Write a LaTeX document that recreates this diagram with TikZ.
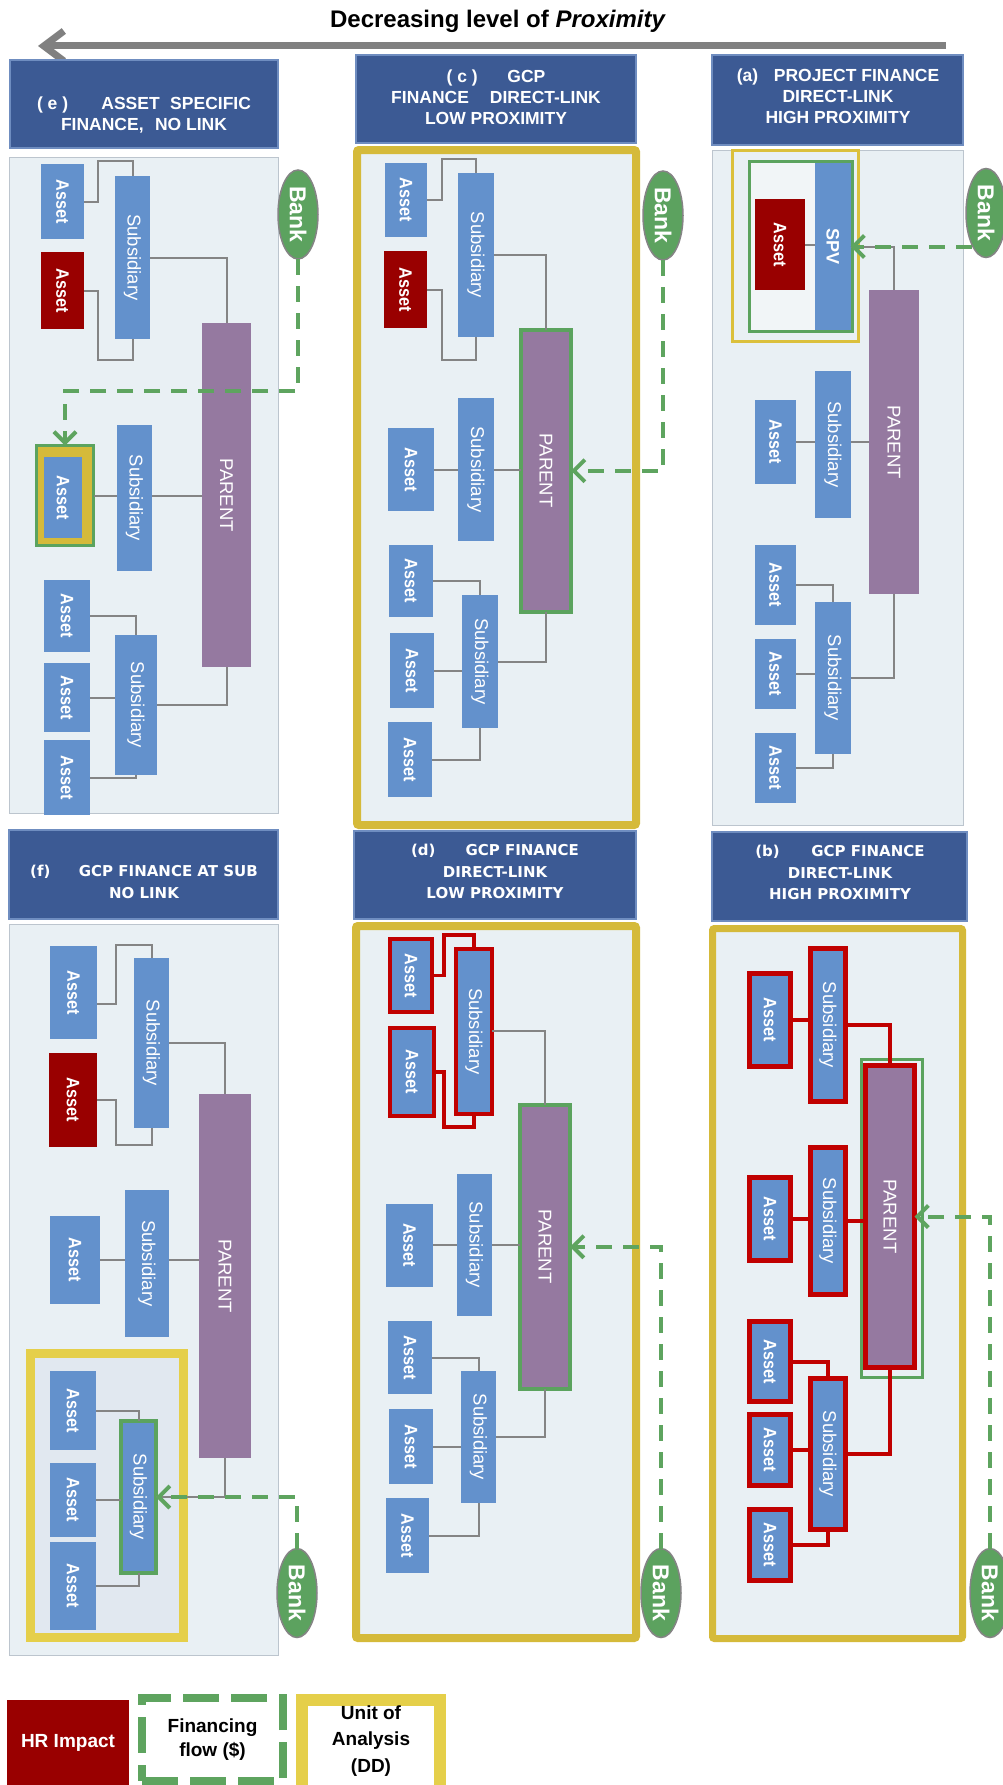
\documentclass[tikz,border=0pt]{standalone}
\usepackage{fontspec}
\setmainfont{Liberation Sans}
\newfontfamily\widefont{DejaVu Sans}
\usepackage{graphicx}
\usetikzlibrary{arrows.meta,shapes.geometric}
\definecolor{hdrblue}{HTML}{3C5A94}
\definecolor{hdrline}{HTML}{6F8DC0}
\definecolor{panelbg}{HTML}{E9F0F4}
\definecolor{panelline}{HTML}{BCC5CE}
\definecolor{assetblue}{HTML}{6391CC}
\definecolor{hrred}{HTML}{990000}
\definecolor{hrline}{HTML}{C00000}
\definecolor{parentpurple}{HTML}{9579A0}
\definecolor{bankgreen}{HTML}{5CA25F}
\definecolor{flowgreen}{HTML}{5EA45F}
\definecolor{greenline}{HTML}{5BA35E}
\definecolor{frameyellow}{HTML}{D5BA3A}
\definecolor{spvyellow}{HTML}{DBC03C}
\definecolor{lightyellow}{HTML}{E5CF4A}
\definecolor{conngray}{HTML}{848484}
\definecolor{arrowgray}{HTML}{808080}
\definecolor{unitbg}{HTML}{E1E8F0}
\definecolor{spvbg}{HTML}{F1F5F7}
\newcommand\rt[2][1]{\rotatebox{-90}{\scalebox{#1}[1]{#2}}}
\newcommand\tAsset{\rt[0.9]{\fontsize{18}{18}\selectfont\bfseries Asset}}
\newcommand\tSub{\rt{\fontsize{18.5}{18}\selectfont Subsidiary}}
\newcommand\tParent{\rt{\fontsize{18.5}{18}\selectfont PARENT}}
\newcommand\tBank{\rt{\fontsize{23}{23}\selectfont\bfseries Bank}}
\newcommand\tSpv{\rt{\fontsize{18}{18}\selectfont\bfseries SPV}}
\newcommand\bx[7]{\node[#2,minimum width={(#5)-(#3)},minimum height={(#6)-(#4)}] (#1) at ({((#3)+(#5))/2},{((#4)+(#6))/2}) {#7};}
\tikzset{
 shp/.style={inner sep=0pt, outer sep=0pt, text=white},
 ast/.style={shp, fill=assetblue},
 hrast/.style={shp, fill=hrred},
 subbox/.style={shp, fill=assetblue},
 parentbox/.style={shp, fill=parentpurple},
 gparent/.style={shp, fill=parentpurple, draw=greenline, line width=4pt},
 gsub/.style={shp, fill=assetblue, draw=greenline, line width=4pt},
 redast/.style={shp, fill=assetblue, draw=hrline, line width=4pt},
 redast5/.style={shp, fill=assetblue, draw=hrline, line width=5pt},
 redpar/.style={shp, fill=parentpurple, draw=hrline, line width=5pt},
 unitmark/.style={shp, fill=frameyellow, draw=greenline, line width=3pt},
 bankov/.style={ellipse, fill=bankgreen, draw=conngray, line width=1.5pt, inner sep=0pt, outer sep=0pt, text=white, minimum width=40pt, minimum height=89pt},
 hdr/.style={shp, fill=hdrblue, draw=hdrline, line width=1.2pt},
 hdrtxt/.style={text=white, align=center, inner sep=0pt, anchor=north, font=\fontsize{17.5}{21}\selectfont\bfseries},
 hdrtxtw/.style={text=white, align=center, inner sep=0pt, anchor=north, font=\widefont\fontsize{15}{21.5}\selectfont\bfseries},
 pnl/.style={shp, fill=panelbg, draw=panelline, line width=1pt},
 yframe/.style={shp, fill=panelbg, draw=frameyellow, line width=8pt, rounded corners=2pt},
 conn/.style={draw=conngray, line width=2pt},
 rconn/.style={draw=hrline, line width=3.5pt},
 rconnb/.style={draw=hrline, line width=4pt},
 flow/.style={draw=flowgreen, line width=4pt, dash pattern=on 16pt off 11pt, -{Straight Barb[length=11pt,width=22pt]}},
}
\begin{document}
\begin{tikzpicture}[x=1pt,y=-1pt]
\useasboundingbox (0,0) rectangle (1002,1785);
\fill[white] (0,0) rectangle (1002,1785);
% title and arrow
\node[font=\fontsize{24}{28}\selectfont\bfseries, anchor=base] (title) at (498,27.6) {Decreasing level of \textit{Proximity}};
\coordinate (arrS) at (946,46);
\coordinate (arrE) at (38,46);
\draw[arrowgray, line width=7pt, -{Straight Barb[length=20pt,width=30pt]}] (arrS) -- (arrE);
% headers
\bx{e_h}{hdr}{10}{60}{278}{148}{}
\bx{c_h}{hdr}{356}{55}{636}{143}{}
\bx{a_h}{hdr}{712}{55}{963}{145}{}
\bx{f_h}{hdr}{9}{830}{278}{919}{}
\bx{d_h}{hdr}{354}{831}{636}{919}{}
\bx{b_h}{hdr}{712}{832}{967}{921}{}
\node[hdrtxt] (e_ht) at (144,96.5) {( e )\hspace{1.9em}ASSET\hspace{0.6em}SPECIFIC\\FINANCE,\hspace{0.65em}NO LINK};
\node[hdrtxt] (c_ht) at (496,69.5) {( c )\hspace{1.7em}GCP\\FINANCE\hspace{1.2em}DIRECT-LINK\\LOW PROXIMITY};
\node[hdrtxt] (a_ht) at (838,68.5) {(a)\hspace{0.9em}PROJECT FINANCE\\DIRECT-LINK\\HIGH PROXIMITY};
\node[hdrtxtw] (f_ht) at (144,865.3) {(f)\hspace{1.9em}GCP FINANCE AT SUB\\NO LINK};
\node[hdrtxtw] (d_ht) at (495,844.3) {(d)\hspace{2em}GCP FINANCE\\DIRECT-LINK\\LOW PROXIMITY};
\node[hdrtxtw] (b_ht) at (840,845.3) {(b)\hspace{2.1em}GCP FINANCE\\DIRECT-LINK\\HIGH PROXIMITY};
% panels
\bx{e_bg}{pnl}{9}{157}{278}{813}{}
\bx{a_bg}{pnl}{712}{150}{963}{825}{}
\bx{f_bg}{pnl}{9}{924}{278}{1655}{}
\bx{c_bg}{yframe}{357}{150}{636}{825}{}
\bx{d_bg}{yframe}{356}{926}{636}{1638}{}
\node[shp, fill=panelbg, draw=frameyellow, line width=7pt, rounded corners=2pt, minimum width=250pt, minimum height=710pt] (b_bg) at (837.5,1283.5) {};
% ---------- panel (e)
\bx{e_a1}{ast}{41}{164}{84}{239}{\tAsset}
\bx{e_a2}{hrast}{41}{252}{84}{329}{\tAsset}
\bx{e_s1}{subbox}{115}{176}{150}{339}{\tSub}
\bx{e_p}{parentbox}{202}{323}{251}{667}{\tParent}
\bx{e_u}{unitmark}{36.5}{445.5}{93.5}{545.5}{}
\bx{e_a3}{ast}{44}{457}{82}{538}{\tAsset}
\bx{e_s2}{subbox}{117}{425}{152}{571}{\tSub}
\bx{e_s3}{subbox}{115}{635}{157}{775}{\tSub}
\bx{e_b1}{ast}{44}{580}{90}{652}{\tAsset}
\bx{e_b2}{ast}{44}{663}{90}{732}{\tAsset}
\bx{e_b3}{ast}{44}{740}{90}{815}{\tAsset}
\node[bankov] (e_bank) at (298,214.5) {\tBank};
\draw[conn] (e_a1.east) -| (98,161) -| (e_s1.north);
\draw[conn] (e_a2.east) -| (98,360) -| (e_s1.south);
\draw[conn] (e_s1.east) -| (e_p.north);
\draw[conn] (e_u.east) -- (e_u.east -| e_s2.west);
\draw[conn] (e_s2.east |- e_u.east) -- (e_u.east -| e_p.west);
\draw[conn] (e_b1.east) -| (e_s3.north);
\draw[conn] (e_b2.east) -- (e_b2.east -| e_s3.west);
\draw[conn] (e_b3.east) -| (e_s3.south);
\draw[conn] (e_p.south) |- (e_s3.east);
% ---------- panel (c)
\bx{c_a1}{ast}{385}{162.5}{427}{237}{\tAsset}
\bx{c_a2}{hrast}{384}{251}{427}{328}{\tAsset}
\bx{c_s1}{subbox}{458}{173}{494}{337}{\tSub}
\bx{c_p}{gparent}{521}{330}{571}{611.5}{\tParent}
\bx{c_s2}{subbox}{458}{398}{494}{541}{\tSub}
\bx{c_a3}{ast}{388}{428}{434}{511}{\tAsset}
\bx{c_s3}{subbox}{462}{595}{498}{728}{\tSub}
\bx{c_b1}{ast}{389}{545}{433}{617}{\tAsset}
\bx{c_b2}{ast}{390}{633}{434}{708}{\tAsset}
\bx{c_b3}{ast}{388}{722}{432}{797}{\tAsset}
\node[bankov] (c_bank) at (663,215.5) {\tBank};
\draw[conn] (c_a1.east) -| (442,158.6) -| (c_s1.north);
\draw[conn] (c_a2.east) -| (442,360) -| (c_s1.south);
\draw[conn] (c_s1.east) -| (c_p.north);
\draw[conn] (c_a3.east) -- (c_a3.east -| c_s2.west);
\draw[conn] (c_s2.east |- c_a3.east) -- (c_a3.east -| c_p.west);
\draw[conn] (c_b1.east) -| (c_s3.north);
\draw[conn] (c_b2.east) -- (c_b2.east -| c_s3.west);
\draw[conn] (c_b3.east) -| (c_s3.south);
\draw[conn] (c_p.south) |- (c_s3.east);
% ---------- panel (a)
\bx{a_y}{shp}{732.5}{150.5}{858.5}{341.5}{}
\draw[spvyellow, line width=3.5pt] (a_y.north west) rectangle (a_y.south east);
\bx{a_g}{shp}{749.5}{161.5}{852}{331.5}{}
\draw[greenline, line width=3pt, fill=spvbg] (a_g.north west) rectangle (a_g.south east);
\bx{a_spv}{subbox}{815}{163}{850.5}{330}{\tSpv}
\bx{a_as}{hrast}{755}{199}{805}{290}{\tAsset}
\bx{a_p}{parentbox}{869}{290}{919}{594}{\tParent}
\bx{a_s2}{subbox}{815}{371}{851}{518}{\tSub}
\bx{a_a3}{ast}{755}{400}{796}{484}{\tAsset}
\bx{a_s3}{subbox}{815}{602}{851}{754}{\tSub}
\bx{a_b1}{ast}{755}{545}{796}{625}{\tAsset}
\bx{a_b2}{ast}{755}{639}{796}{709}{\tAsset}
\bx{a_b3}{ast}{755}{733}{796}{803}{\tAsset}
\node[bankov] (a_bank) at (986,213) {\tBank};
\draw[conn] (a_as.east) -- (a_as.east -| a_spv.west);
\draw[conn] (a_spv.east) -| (a_p.north);
\draw[conn] (a_a3.east) -- (a_a3.east -| a_s2.west);
\draw[conn] (a_s2.east |- a_a3.east) -- (a_a3.east -| a_p.west);
\draw[conn] (a_b1.east) -| (a_s3.north);
\draw[conn] (a_b2.east) -- (a_b2.east -| a_s3.west);
\draw[conn] (a_b3.east) -| (a_s3.south);
\draw[conn] (a_p.south) |- (a_s3.east);
% ---------- panel (f)
\bx{f_a1}{ast}{50}{946}{97}{1039}{\tAsset}
\bx{f_a2}{hrast}{49}{1053}{97}{1147}{\tAsset}
\bx{f_s1}{subbox}{134}{958}{169}{1128}{\tSub}
\bx{f_p}{parentbox}{199}{1094}{251}{1458}{\tParent}
\bx{f_s2}{subbox}{125}{1190}{169}{1336.5}{\tSub}
\bx{f_a3}{ast}{50}{1216}{100}{1304}{\tAsset}
\node[shp, fill=unitbg, draw=lightyellow, line width=9pt, minimum width=153pt, minimum height=284pt] (f_u) at (107,1495.5) {};
\bx{f_b1}{ast}{50}{1371}{96}{1450}{\tAsset}
\bx{f_b2}{ast}{50}{1463}{96}{1537}{\tAsset}
\bx{f_b3}{ast}{50}{1542}{96}{1630}{\tAsset}
\bx{f_s3}{gsub}{121}{1421}{156}{1573}{\tSub}
\node[bankov] (f_bank) at (297,1593) {\tBank};
\draw[conn] (f_a1.east |- 0,1004) -| (116,945) -| (f_s1.north);
\draw[conn] (f_a2.east) -| (116,1144.5) -| (f_s1.south);
\draw[conn] (f_s1.east) -| (f_p.north);
\draw[conn] (f_a3.east) -- (f_a3.east -| f_s2.west);
\draw[conn] (f_s2.east |- f_a3.east) -- (f_a3.east -| f_p.west);
\draw[conn] (f_b1.east) -| (f_s3.north);
\draw[conn] (f_b2.east) -- (f_b2.east -| f_s3.west);
\draw[conn] (f_b3.east) -| (f_s3.south);
\draw[conn] (f_p.south) |- (f_s3.east);
% ---------- panel (d)
\bx{d_a1}{redast}{390}{939}{432}{1012}{\tAsset}
\bx{d_a2}{redast}{390}{1028}{434}{1116}{\tAsset}
\bx{d_s1}{redast}{456}{949}{492}{1113.5}{\tSub}
\bx{d_p}{gparent}{520}{1105}{570}{1388.5}{\tParent}
\bx{d_s2}{subbox}{457}{1174}{492}{1315.5}{\tSub}
\bx{d_a3}{ast}{386}{1204}{433}{1286.5}{\tAsset}
\bx{d_s3}{subbox}{461}{1371}{496}{1503}{\tSub}
\bx{d_b1}{ast}{388}{1321}{432}{1394}{\tAsset}
\bx{d_b2}{ast}{389}{1409}{433}{1484}{\tAsset}
\bx{d_b3}{ast}{386}{1498}{429}{1573}{\tAsset}
\node[bankov] (d_bank) at (661,1593) {\tBank};
\draw[rconn] (d_a1.east) -| (444,935) -| (d_s1.north);
\draw[rconn] (d_a2.east) -| (444,1127) -| (d_s1.south);
\draw[conn] (d_s1.east) -| (d_p.north);
\draw[conn] (d_a3.east) -- (d_a3.east -| d_s2.west);
\draw[conn] (d_s2.east |- d_a3.east) -- (d_a3.east -| d_p.west);
\draw[conn] (d_b1.east) -| (d_s3.north);
\draw[conn] (d_b2.east) -- (d_b2.east -| d_s3.west);
\draw[conn] (d_b3.east) -| (d_s3.south);
\draw[conn] (d_p.south) |- (d_s3.east);
% ---------- panel (b)
\bx{b_s1}{redast5}{810.5}{948.5}{845.5}{1101.5}{\tSub}
\bx{b_a1}{redast5}{749.5}{973.5}{790.5}{1066.5}{\tAsset}
\bx{b_pg}{shp}{861}{1059.5}{922}{1377.5}{}
\draw[greenline, line width=3pt] (b_pg.north west) rectangle (b_pg.south east);
\bx{b_p}{redpar}{865.5}{1065.5}{914.5}{1367.5}{\tParent}
\bx{b_s2}{redast5}{810.5}{1147.5}{845.5}{1294.5}{\tSub}
\bx{b_a2}{redast5}{749.5}{1177.5}{790.5}{1260.5}{\tAsset}
\bx{b_s3}{redast5}{810.5}{1378.5}{845.5}{1529.5}{\tSub}
\bx{b_b1}{redast5}{749.5}{1321.5}{790.5}{1401.5}{\tAsset}
\bx{b_b2}{redast5}{749.5}{1414.5}{790.5}{1485.5}{\tAsset}
\bx{b_b3}{redast5}{749.5}{1509.5}{790.5}{1580.5}{\tAsset}
\node[bankov] (b_bank) at (990,1593) {\tBank};
\draw[rconnb] (b_a1.east) -- (b_a1.east -| b_s1.west);
\draw[rconnb] (b_s1.east) -| (b_p.north);
\draw[rconnb] (b_a2.east) -- (b_a2.east -| b_s2.west);
\draw[rconnb] (b_s2.east) -- (b_s2.east -| b_p.west);
\draw[rconnb] (b_b1.east) -| (b_s3.north);
\draw[rconnb] (b_b2.east) -- (b_b2.east -| b_s3.west);
\draw[rconnb] (b_b3.east) -| (b_s3.south);
\draw[rconnb] (b_p.south) |- (b_s3.east);
% ---------- financing flows
\draw[flow] (e_bank.south) |- (e_u.north |- 0,391) -- (e_u.north);
\draw[flow] (c_bank.south) |- (c_p.east);
\draw[flow] (a_bank.south west |- a_spv.east) -- (a_spv.east);
\draw[flow] (f_bank.north) |- (f_s3.east);
\draw[flow] (d_bank.north) |- (d_p.east);
\draw[flow] (b_bank.north) |- (b_p.east);
% ---------- legend
\bx{lg_hr}{hrast}{7}{1700}{129}{1785}{\fontsize{19}{22}\selectfont\bfseries HR Impact}
\node[draw=flowgreen, line width=8pt, dash pattern=on 36pt off 12pt, inner sep=0pt, minimum width=141pt, minimum height=83pt, align=center, font=\fontsize{19}{24}\selectfont\bfseries] (lg_flow) at (212.5,1739.5) {Financing\\flow (\$)};
\node[draw=lightyellow, line width=12pt, fill=white, inner sep=0pt, minimum width=138pt, minimum height=100pt] (lg_unit) at (371,1750) {};
\node[font=\fontsize{19}{26.5}\selectfont\bfseries, align=center, inner sep=0pt] (lg_unit_t) at (371,1741) {Unit of\\Analysis\\(DD)};
\end{tikzpicture}
\end{document}
